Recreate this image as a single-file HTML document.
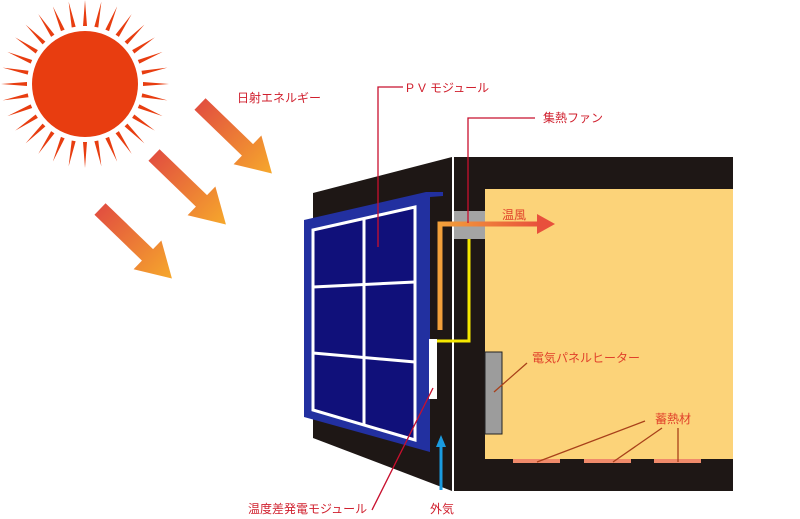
<!DOCTYPE html>
<html><head><meta charset="utf-8"><style>
html,body{margin:0;padding:0;background:#fff;}
svg{display:block;}
text{font-family:"Liberation Sans","Noto Sans CJK JP",sans-serif;}
</style></head><body>
<svg width="800" height="519" viewBox="0 0 800 519" xmlns="http://www.w3.org/2000/svg">
<defs>
<linearGradient id="ag" x1="0" y1="0" x2="1" y2="0"><stop offset="0" stop-color="#e2503f"/><stop offset="1" stop-color="#f6a82c"/></linearGradient>
<linearGradient id="hg" x1="0" y1="0" x2="1" y2="0"><stop offset="0" stop-color="#f3a03a"/><stop offset="1" stop-color="#e8503c"/></linearGradient>
<g id="arr"><polygon points="0,-8 66,-8 66,-20 100,0 66,20 66,8 0,8" fill="url(#ag)"/></g>
</defs>
<g fill="#e83d10" id="raysall"></g>
<circle cx="85" cy="84" r="53" fill="#e83d10"/>
<!-- arrows -->
<g transform="translate(200,104) rotate(44)"><use href="#arr"/></g>
<g transform="translate(154,155) rotate(44)"><use href="#arr"/></g>
<g transform="translate(100,209) rotate(44)"><use href="#arr"/></g>
<!-- left face -->
<polygon points="313,193 452,157 452,491 313,438" fill="#1e1715"/>
<!-- right box -->
<rect x="452" y="157" width="281" height="334" fill="#1e1715"/>
<rect x="452" y="157" width="2" height="334" fill="#fff"/>
<rect x="485" y="189" width="248" height="270" fill="#fcd379"/>
<rect x="485" y="352" width="17" height="82" fill="#9c9c9c" stroke="#222" stroke-width="1"/>
<rect x="513" y="459" width="47" height="4" fill="#f08a6a"/>
<rect x="584" y="459" width="47" height="4" fill="#f08a6a"/>
<rect x="654" y="459" width="47" height="4" fill="#f08a6a"/>
<!-- panel -->
<polygon points="304,220 426,192 443,192 443,196 430,197 430,452 304,417" fill="#2230a0"/>
<polygon points="313,230 415,207 415,440 313,410" fill="#10107a" stroke="#fff" stroke-width="3"/>
<line x1="364" y1="218" x2="364" y2="425" stroke="#fff" stroke-width="3"/>
<line x1="313" y1="287" x2="415" y2="282" stroke="#fff" stroke-width="3"/>
<line x1="313" y1="353" x2="415" y2="362" stroke="#fff" stroke-width="3"/>
<!-- conduits -->
<rect x="454" y="211" width="31" height="28" fill="#a4a4a4"/>
<polyline points="469,239 469,341 435,341" fill="none" stroke="#f5e800" stroke-width="3"/>
<rect x="429" y="339" width="8" height="60" fill="#fff"/>
<polyline points="440,330 440,224 540,224" fill="none" stroke="url(#hg)" stroke-width="5"/>
<polygon points="537,214 555,224 537,234" fill="#e8503c"/>
<!-- blue arrow -->
<line x1="441" y1="490" x2="441" y2="445" stroke="#1a9be0" stroke-width="3"/>
<polygon points="436,447 446,447 441,435" fill="#1a9be0"/>
<!-- leaders -->
<g stroke="#c8102e" stroke-width="1.3" fill="none">
<polyline points="378,247 378,87 403,87"/>
<polyline points="468,223 468,118 535,118"/>
<line x1="433" y1="388" x2="372" y2="510"/>
</g>
<g stroke="#a8401a" stroke-width="1.3">
<line x1="527" y1="363" x2="494" y2="392"/>
<line x1="645" y1="421" x2="537" y2="462"/>
<line x1="662" y1="428" x2="613" y2="462"/>
<line x1="678" y1="428" x2="678" y2="462"/>
</g>
<!-- labels -->
<g fill="#d0202e" font-size="12">
<text x="237" y="102">日射エネルギー</text>
<text x="406" y="92"><tspan letter-spacing="4">PV</tspan>モジュール</text>
<text x="543" y="122">集熱ファン</text>
<text x="248" y="513">温度差発電モジュール</text>
<text x="430" y="513">外気</text>
</g>
<g fill="#e0402a" font-size="12">
<text x="502" y="219">温風</text>
<text x="532" y="362">電気パネルヒーター</text>
<text x="655" y="423">蓄熱材</text>
</g>
</svg>
<script>
(function(){var g=document.querySelector('#raysall');var s='';for(var i=0;i<32;i++){var a=i*360/32;s+='<polygon transform="translate(85,84) rotate('+a+')" points="-2,-58 2,-58 0,-84"/>';}g.innerHTML=s;})();
</script>
</body></html>
